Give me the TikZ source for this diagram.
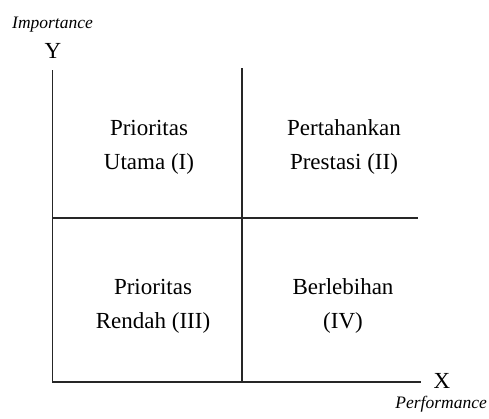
\documentclass[tikz,border=0pt]{standalone}
\usepackage{fontspec}
\setmainfont{Liberation Serif}
\begin{document}
\begin{tikzpicture}[x=1pt,y=-1pt,
  axis/.style={line width=1.8pt,draw=black!85},
  quad/.style={align=center,font=\fontsize{23}{34}\selectfont,inner sep=0pt},
  axlbl/.style={font=\fontsize{23}{26}\selectfont,inner sep=0pt},
  axname/.style={font=\fontsize{17.5}{20}\selectfont\itshape,inner sep=0pt}]
\useasboundingbox (0,0) rectangle (489,418);
% axis corner points
\coordinate (o) at (52.5,382);
\coordinate (ytop) at (52.5,70);
\coordinate (xend) at (421,382);
\coordinate (mtop) at (242,68);
\coordinate (mbot) at (242,382);
\coordinate (ml) at (52.5,218);
\coordinate (mr) at (418,218);
% lines
\draw[axis] (ytop) -- (o) -- (xend);
\draw[axis] (mtop) -- (mbot);
\draw[axis] (ml) -- (mr);
% axis labels
\node[axname,anchor=base west] (imp) at (12,28) {Importance};
\node[axlbl,anchor=base] (ylab) at (53,58) {Y};
\node[axlbl,anchor=base] (xlab) at (442,388) {X};
\node[axname,anchor=base east] (perf) at (487,408) {Performance};
% quadrants
\node[quad] (q1) at (149,147) {Prioritas\\Utama (I)};
\node[quad] (q2) at (344,147) {Pertahankan\\Prestasi (II)};
\node[quad] (q3) at (153,306) {Prioritas\\Rendah (III)};
\node[quad] (q4) at (343,306) {Berlebihan\\(IV)};
\end{tikzpicture}
\end{document}
